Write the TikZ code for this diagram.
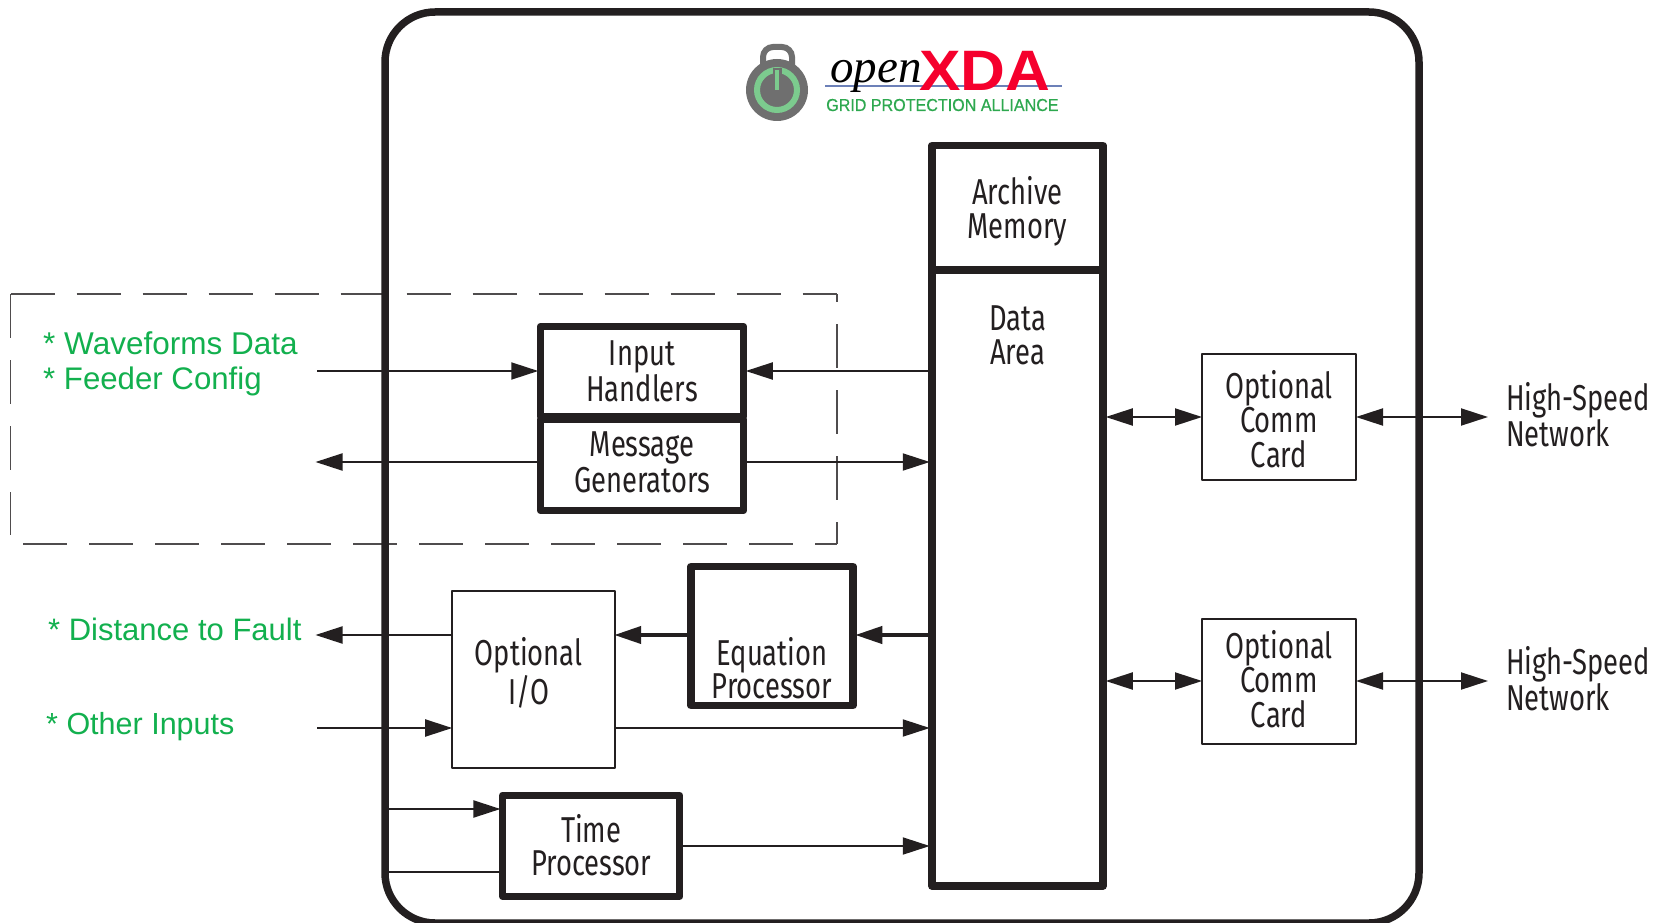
\documentclass[tikz,border=0pt]{standalone}
\usepackage{fontspec}
\setmainfont{Liberation Sans}
\newfontfamily\narrowfont[FakeStretch=0.76]{Fira Sans}
\newfontfamily\logoserif{Liberation Serif}
\newfontfamily\xdafont[FakeStretch=1.09,UprightFont=* Bold]{Liberation Sans}
\newfontfamily\gpafont[FakeStretch=0.93,FakeBold=0.5]{Liberation Sans}
\usetikzlibrary{arrows.meta}
\definecolor{ink}{HTML}{231F20}
\definecolor{labelgreen}{HTML}{12B04E}
\definecolor{logored}{HTML}{F5002D}
\definecolor{logogreen}{HTML}{2DA84F}
\definecolor{logoblue}{HTML}{6C80B8}
\definecolor{lockgray}{HTML}{6F6F6F}
\definecolor{ringgreen}{HTML}{7CCB8E}
% \boxtext[x kern]{height of node centre over first baseline}{line pitch}{lines}
\newcommand\boxtext[4][0pt]{\makebox[0pt][c]{\hspace*{#1}\raisebox{#2pt}[0pt][0pt]{\vtop{\hsize=300pt\parindent=0pt\centering\fontsize{36}{#3}\selectfont\lineskiplimit=-100pt\baselineskip=#3pt #4\par}}}}
\tikzset{
  x=1pt,y=-1pt,
  thinbox/.style={draw=ink,line width=2pt,line join=round,inner sep=0pt,
    font=\narrowfont\fontsize{36}{36}\selectfont,text=ink},
  thickbox/.style={thinbox,line width=7.5pt},
  net/.style={align=left,anchor=west,inner sep=0pt,font=\narrowfont\fontsize{36}{36}\selectfont,text=ink},
  note/.style={anchor=base west,inner sep=0pt,text=labelgreen,font=\fontsize{31.5}{36}\selectfont},
  dashline/.style={draw=ink!80,line width=1.8pt,dash pattern=on 44pt off 22pt},
  link/.style={draw=ink,line width=2pt,shorten >=-1.5pt,-{Triangle[length=27pt,width=17pt]}},
  plainlink/.style={draw=ink,line width=2pt},
  bilink/.style={draw=ink,line width=2pt,shorten >=-1pt,shorten <=-1pt,{Triangle[length=27pt,width=17pt]}-{Triangle[length=27pt,width=17pt]}},
  heavylink/.style={link,line width=4pt},
}
\begin{document}
\begin{tikzpicture}
\useasboundingbox (0,0) rectangle (1665,923);
\fill[white] (0,0) rectangle (1665,923);
% dashed region
\coordinate (rNW) at (10.5,294);
\coordinate (rNE) at (837,294);
\coordinate (rSW) at (23,544);
\coordinate (rSE) at (837,544);
\draw[dashline] (rNW) -- (rNE);
\draw[dashline] (rNW) -- (10.5,535);
\draw[dashline] (rSW) -- (rSE);
\draw[dashline,dash phase=36pt] (rNE) -- (rSE);
% outer chassis
\node[draw=ink,line width=7.5pt,rounded corners=50pt,minimum width=1034pt,minimum height=911pt,inner sep=0pt] (chassis) at (902,467.5) {};
% logo
\fill[lockgray] (777,90) circle (31);
\draw[lockgray,line width=6pt,rounded corners=10pt] (763,70) -- (763,47) -- (792,47) -- (792,70);
\draw[ringgreen,line width=6pt] (777,90) circle (20);
\draw[lockgray,line width=9pt] (777,68) -- (777,92);
\draw[ringgreen,line width=4.5pt] (777,70) -- (777,90);
\draw[logoblue,line width=2pt] (825,86) -- (1062,86);
\node[anchor=base west,inner sep=0pt,font=\logoserif\itshape\fontsize{47}{47}\selectfont,text=black] (logoopen) at (830,83) {open};
\node[anchor=base west,inner sep=0pt,font=\xdafont\fontsize{57}{57}\selectfont,text=logored] (logoxda) at (919,91) {XDA};
\node[anchor=base west,inner sep=0pt,font=\gpafont\fontsize{17.3}{17}\selectfont,text=logogreen] (logogpa) at (826,111) {GRID PROTECTION ALLIANCE};
% boxes
\node[thickbox,minimum width=171pt,minimum height=124.5pt] (archive) at (1017.5,207.75) {\boxtext{3.75}{34}{Archive\\Memory}};
\node[thickbox,minimum width=171pt,minimum height=616pt] (data) at (1017.5,578) {\boxtext{248}{34}{Data\\Area}};
\node[thickbox,minimum width=203pt,minimum height=90pt] (input) at (642,371.5) {\boxtext{6.5}{36}{Input\\Handlers}};
\node[thickbox,minimum width=203pt,minimum height=91pt] (message) at (642,465) {\boxtext{9}{36}{Message\\Generators}};
\node[thickbox,minimum width=162pt,minimum height=139pt] (equation) at (772,636) {\boxtext{-29}{33}{Equation\\Processor}};
\node[thinbox,minimum width=163pt,minimum height=177pt] (optio) at (533.2,679) {\boxtext[-9pt]{14}{39}{Optional\\I/O}};
\node[thickbox,minimum width=177pt,minimum height=101pt] (time) at (591.2,845.8) {\boxtext{3}{32.5}{Time\\Processor}};
\node[thinbox,minimum width=154pt,minimum height=126pt] (cardA) at (1279,417) {\boxtext{19}{34.5}{Optional\\Comm\\Card}};
\node[thinbox,minimum width=154pt,minimum height=125pt] (cardB) at (1279,681) {\boxtext{23}{34.5}{Optional\\Comm\\Card}};
% labels
\node[note] (wave) at (43,354) {* Waveforms Data};
\node[note,font=\fontsize{31.2}{36}\selectfont] (feeder) at (43,389) {* Feeder Config};
\node[note,font=\fontsize{31}{36}\selectfont] (dist) at (48,640) {* Distance to Fault};
\node[note,font=\fontsize{30.5}{36}\selectfont] (other) at (46,734) {* Other Inputs};
\node[net] (netA) at (1506,415) {High-Speed\\Network};
\node[net] (netB) at (1506,679) {High-Speed\\Network};
% free ends
\coordinate (inA) at (317,371);
\coordinate (outA) at (317,462);
\coordinate (outB) at (317,635);
\coordinate (inB) at (317,728);
\coordinate (netEndA) at (1487,417);
\coordinate (netEndB) at (1487,681);
\coordinate (timeA) at (388,809);
\coordinate (timeB) at (388,872);
\coordinate (timeOut) at (800,846);
% connectors
\draw[link] (inA) -- (input.west |- inA);
\draw[link] (message.west |- outA) -- (outA);
\draw[link] (data.west |- inA) -- (input.east |- inA);
\draw[link] (message.east |- outA) -- (data.west |- outA);
\draw[bilink] (data.east |- cardA) -- (cardA.west);
\draw[bilink] (cardA.east) -- (netEndA);
\draw[bilink] (data.east |- cardB) -- (cardB.west);
\draw[bilink] (cardB.east) -- (netEndB);
\draw[heavylink] (data.west |- outB) -- (equation.east |- outB);
\draw[heavylink] (equation.west |- outB) -- (optio.east |- outB);
\draw[link] (optio.west |- outB) -- (outB);
\draw[link] (inB) -- (optio.west |- inB);
\draw[link] (optio.east |- inB) -- (data.west |- inB);
\draw[link] (timeA) -- (time.west |- timeA);
\draw[plainlink] (timeB) -- (time.west |- timeB);
\draw[link] (time.east |- timeOut) -- (data.west |- timeOut);
\end{tikzpicture}
\end{document}
